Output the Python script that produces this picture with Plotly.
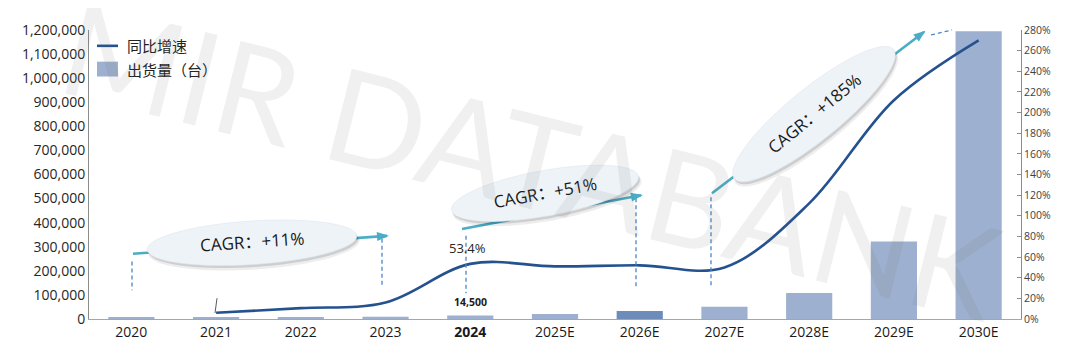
import math
import plotly.graph_objects as go

# ---------------- data ----------------
categories = ["2020", "2021", "2022", "2023", "2024", "2025E", "2026E",
              "2027E", "2028E", "2029E", "2030E"]
tick_labels = ["2020", "2021", "2022", "2023", "<b>2024</b>", "2025E", "2026E",
               "2027E", "2028E", "2029E", "2030E"]
shipments = [7000, 7400, 8200, 9450, 14500, 21000, 33000, 51000, 108000, 322000, 1195000]
growth_categories = ["2021", "2022", "2023", "2024", "2025E", "2026E",
                     "2027E", "2028E", "2029E", "2030E"]
growth_pct = [6, 10.5, 16, 53.4, 51, 52, 50, 112, 212, 270]
cagr_texts = ["CAGR：+11%", "CAGR：+51%", "CAGR：+185%"]
legend_names = ["同比增速", "出货量（台）"]
left_ticks = list(range(0, 1200001, 100000))
right_ticks = list(range(0, 281, 20))

# ---------------- style ----------------
OFF = 8                       # page body margin of the html page
W, H = 1080 - OFF, 355 - OFF
X0, X1, YB, YT = 89, 1021, 319, 27   # plot area in window pixels
BAR = "#9db0cf"
BAR_DARK = "#6d8cba"
LINE = "#24528f"
CYAN = "#4bacc6"
DASH_BLUE = "#4a86c8"
FONT = "Open Sans, Noto Sans CJK SC, sans-serif"
CJK = "Noto Sans CJK SC, sans-serif"


def PX(x):
    return (x - X0) / (X1 - X0)


def PY(y):
    return (YB - y) / (YB - YT)


bar_colors = [BAR_DARK if c == "2026E" else BAR for c in categories]
idx_2024 = categories.index("2024")

fig = go.Figure()
fig.add_trace(go.Bar(x=categories, y=shipments, marker_color=bar_colors,
                     marker_line_width=0, name=legend_names[1], yaxis="y",
                     showlegend=False, hoverinfo="skip"))
fig.add_trace(go.Scatter(x=growth_categories, y=growth_pct, mode="lines",
                         line=dict(color=LINE, width=2.6, shape="spline", smoothing=1.0),
                         name=legend_names[0], yaxis="y2", showlegend=False,
                         hoverinfo="skip"))

shapes = []


def line_px(x0, y0, x1, y1, color, width, dash=None):
    d = dict(type="line", xref="paper", yref="paper",
             x0=PX(x0), y0=PY(y0), x1=PX(x1), y1=PY(y1),
             line=dict(color=color, width=width))
    if dash:
        d["line"]["dash"] = dash
    shapes.append(d)


def arrow_px(x0, y0, x1, y1):
    line_px(x0, y0, x1, y1, CYAN, 2.6)
    dx, dy = x1 - x0, y1 - y0
    L = math.hypot(dx, dy)
    ux, uy = dx / L, dy / L
    nx, ny = -uy, ux
    hl, hw = 10, 4.5
    bx, by = x1 - ux * hl, y1 - uy * hl
    pts = [(x1 + ux * 2, y1 + uy * 2), (bx + nx * hw, by + ny * hw), (bx - nx * hw, by - ny * hw)]
    path = "M " + " L ".join(f"{PX(a):.5f},{PY(b):.5f}" for a, b in pts) + " Z"
    shapes.append(dict(type="path", xref="paper", yref="paper", path=path,
                       fillcolor=CYAN, line=dict(width=0)))


def ellipse_px(cx, cy, a, b, ang_deg, fill, line_color=None, n=72):
    t = math.radians(ang_deg)
    pts = []
    for i in range(n):
        p = 2 * math.pi * i / n
        ex, ey = a * math.cos(p), b * math.sin(p)
        x = cx + ex * math.cos(t) + ey * math.sin(t)
        y = cy - ex * math.sin(t) + ey * math.cos(t)
        pts.append((x, y))
    path = "M " + " L ".join(f"{PX(x):.5f},{PY(y):.5f}" for x, y in pts) + " Z"
    shapes.append(dict(type="path", xref="paper", yref="paper", path=path,
                       fillcolor=fill,
                       line=dict(color=line_color or fill, width=0.6 if line_color else 0)))


# dashed guide lines
for (x, y0, y1) in [(132, 261, 290), (382, 238, 287), (466, 235, 293),
                    (636, 197, 286), (711, 196, 285)]:
    line_px(x, y0, x, y1, DASH_BLUE, 1.3, "4px,3px")
line_px(931, 32, 952, 27, DASH_BLUE, 1.3, "4px,3px")
# leader line of data label
line_px(217, 298, 215, 313, "#595959", 1)

# arrows
arrow_px(133, 253, 387, 235)
arrow_px(462, 228, 641, 194)
arrow_px(712, 192, 924, 29)

# ellipses with soft shadow
ells = [(252, 242, 105, 22, 3.8), (545, 192, 95, 23, 10.4), (814, 112, 103, 26, 39.4)]
for cx, cy, a, b, ang in ells:
    ellipse_px(cx + 2, cy + 4, a + 1, b + 1, ang, "rgba(0,0,0,0.07)")
    ellipse_px(cx + 1.5, cy + 2.5, a, b, ang, "rgba(0,0,0,0.13)")
    ellipse_px(cx, cy, a, b, ang, "#eef3f8", "#dde5ee")

# manual legend
shapes.append(dict(type="line", xref="paper", yref="paper", x0=PX(97), x1=PX(118),
                   y0=PY(43), y1=PY(43), line=dict(color=LINE, width=2.6)))
shapes.append(dict(type="rect", xref="paper", yref="paper", x0=PX(97), x1=PX(118),
                   y0=PY(59), y1=PY(74), fillcolor=BAR, line=dict(width=0)))

annotations = []
annotations.append(dict(xref="paper", yref="paper", x=PX(125), y=PY(43), text=legend_names[0],
                        showarrow=False, xanchor="left", yanchor="middle",
                        font=dict(family=CJK, size=15, color="#222")))
annotations.append(dict(xref="paper", yref="paper", x=PX(125), y=PY(67), text=legend_names[1],
                        showarrow=False, xanchor="left", yanchor="middle",
                        font=dict(family=CJK, size=15, color="#222")))

# CAGR texts
for (cx, cy, a, b, ang), txt in zip(ells, cagr_texts):
    annotations.append(dict(xref="paper", yref="paper", x=PX(cx), y=PY(cy - 1), text=txt,
                            showarrow=False, textangle=-ang, xanchor="center",
                            yanchor="middle", font=dict(family=FONT, size=17, color="#1a1a1a")))

# data labels
annotations.append(dict(x=idx_2024, y=growth_pct[growth_categories.index("2024")],
                        xref="x", yref="y2", text="53.4%",
                        showarrow=False, yshift=16, xshift=-3,
                        font=dict(family=FONT, size=13, color="#262626")))
annotations.append(dict(x=idx_2024, y=shipments[idx_2024], xref="x", yref="y",
                        text="<b>14,500</b>", showarrow=False, yshift=14,
                        font=dict(family=FONT, size=10.5, color="#1a1a1a")))

# watermark
annotations.append(dict(xref="paper", yref="paper", x=PX(532), y=PY(156),
                        text="MIR DATABANK", showarrow=False, textangle=14,
                        font=dict(family="Lato, sans-serif", size=130,
                                  color="rgba(110,110,110,0.1)")))

fig.update_layout(
    width=W, height=H,
    margin=dict(l=X0 - OFF, r=W + OFF - X1, t=YT - OFF, b=H + OFF - YB),
    paper_bgcolor="white", plot_bgcolor="white",
    bargap=0.455,
    showlegend=False,
    xaxis=dict(type="category", categoryorder="array", categoryarray=categories,
               range=[-0.5, len(categories) - 0.5], autorange=False,
               tickmode="array", tickvals=categories, ticktext=tick_labels,
               showline=True, linecolor="#a6a6a6", linewidth=1.2,
               ticks="", showgrid=False, zeroline=False,
               tickfont=dict(family=FONT, size=14, color="#1a1a1a")),
    yaxis=dict(range=[0, 1200000], autorange=False, tickmode="array", tickvals=left_ticks,
               ticktext=[f"{v:,}" for v in left_ticks],
               showline=True, linecolor="#8c8c8c", linewidth=1, ticks="",
               showgrid=False, zeroline=False,
               tickfont=dict(family=FONT, size=14, color="#262626")),
    yaxis2=dict(range=[0, 280], autorange=False, overlaying="y", side="right",
                tickmode="array", tickvals=right_ticks,
                ticktext=[f"{v}%" for v in right_ticks],
                showline=True, linecolor="#8c8c8c", linewidth=1,
                ticks="inside", ticklen=4, tickcolor="#8c8c8c",
                showgrid=False, zeroline=False,
                tickfont=dict(family=FONT, size=10.5, color="#404040")),
    shapes=shapes,
    annotations=annotations,
)

fig.write_html("out.html")
